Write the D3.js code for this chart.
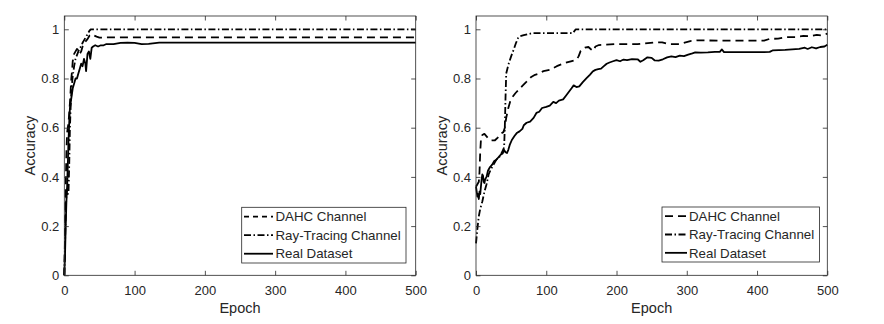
<!DOCTYPE html>
<html><head><meta charset="utf-8">
<script src="https://cdn.jsdelivr.net/npm/d3@7"></script>
<style>
body{margin:0;background:#fff}
svg{display:block}
text{font-family:"Liberation Sans",Arial,sans-serif;fill:#262626}
</style>
</head><body><svg id="c" width="884" height="324"></svg>
<script>
const xTicks=[0,100,200,300,400,500];
const yTicks=[0,0.2,0.4,0.6,0.8,1];
const yTickLabels=["0","0.2","0.4","0.6","0.8","1"];
const seriesNames=["DAHC Channel","Ray-Tracing Channel","Real Dataset"];
const xLabel="Epoch", yLabel="Accuracy";

// Left panel: [epoch, accuracy]
const leftDahc=[[0,0],[1,0.15],[2,0.35],[3,0.5],[4,0.58],[5,0.6],[6,0.62],[7,0.66],[8,0.7],[9,0.75],[10,0.8],[11,0.83],[12,0.87],[14,0.9],[16,0.91],[18,0.92],[20,0.915],[22,0.9],[24,0.91],[26,0.93],[28,0.945],[30,0.95],[33,0.96],[36,0.975],[39,0.98],[42,0.975],[46,0.97],[50,0.966],[60,0.967],[500,0.967]];
const leftRay=[[0,0],[1,0.12],[2,0.25],[3,0.33],[4,0.35],[5,0.33],[6,0.34],[7,0.45],[8,0.6],[9,0.68],[10,0.74],[11,0.78],[12,0.81],[14,0.85],[16,0.88],[18,0.895],[20,0.91],[22,0.925],[24,0.93],[26,0.945],[28,0.955],[30,0.965],[32,0.975],[34,0.985],[36,0.995],[38,1.0],[500,1.0]];
const leftReal=[[0,0],[1,0.08],[2,0.2],[3,0.3],[4,0.36],[5,0.45],[6,0.55],[7,0.62],[8,0.68],[9,0.7],[10,0.72],[12,0.76],[14,0.78],[16,0.8],[18,0.8],[20,0.82],[22,0.84],[24,0.86],[26,0.85],[28,0.88],[30,0.86],[31,0.83],[33,0.9],[35,0.91],[37,0.88],[39,0.925],[41,0.93],[44,0.935],[48,0.93],[52,0.935],[56,0.935],[60,0.94],[70,0.94],[80,0.945],[90,0.946],[100,0.945],[110,0.94],[120,0.941],[135,0.946],[500,0.946]];

// Right panel: [epoch, accuracy]
const rightDahc=[[0,0.36],[2,0.37],[4,0.38],[5,0.42],[6,0.5],[7,0.55],[9,0.57],[12,0.575],[15,0.565],[18,0.555],[22,0.548],[27,0.549],[31,0.56],[35,0.575],[39,0.582],[41,0.6],[43,0.64],[46,0.68],[49,0.71],[52,0.725],[56,0.74],[60,0.752],[66,0.77],[72,0.787],[78,0.805],[84,0.815],[90,0.82],[96,0.83],[105,0.835],[115,0.85],[125,0.862],[135,0.87],[143,0.876],[146,0.89],[149,0.912],[155,0.925],[160,0.928],[164,0.918],[167,0.912],[170,0.93],[175,0.936],[185,0.938],[200,0.94],[230,0.94],[255,0.947],[265,0.947],[275,0.94],[290,0.94],[305,0.952],[315,0.955],[350,0.954],[380,0.954],[410,0.954],[418,0.961],[430,0.962],[442,0.968],[455,0.968],[466,0.973],[475,0.972],[485,0.977],[492,0.975],[500,0.982]];
const rightRay=[[0,0.13],[2,0.19],[4,0.24],[6,0.27],[9,0.3],[12,0.34],[15,0.37],[18,0.41],[21,0.43],[25,0.45],[29,0.47],[33,0.48],[37,0.5],[40,0.52],[41,0.6],[42,0.72],[43,0.82],[46,0.855],[50,0.89],[54,0.92],[57,0.945],[60,0.965],[63,0.972],[68,0.976],[74,0.98],[80,0.984],[100,0.984],[120,0.984],[138,0.985],[142,1.0],[500,1.0]];
const rightReal=[[0,0.36],[1,0.34],[2,0.32],[3,0.33],[4,0.31],[5,0.34],[6,0.33],[7,0.36],[8,0.39],[9,0.41],[10,0.405],[11,0.38],[12,0.375],[13,0.39],[15,0.4],[17,0.425],[20,0.44],[23,0.45],[26,0.465],[29,0.47],[32,0.48],[35,0.49],[38,0.495],[40,0.51],[42,0.5],[44,0.497],[46,0.51],[48,0.53],[51,0.55],[55,0.567],[58,0.578],[62,0.585],[66,0.595],[68,0.61],[72,0.62],[77,0.625],[82,0.64],[86,0.66],[90,0.665],[94,0.68],[100,0.685],[105,0.69],[110,0.705],[114,0.7],[118,0.71],[124,0.715],[128,0.73],[132,0.745],[136,0.76],[139,0.772],[143,0.765],[147,0.768],[152,0.785],[157,0.8],[162,0.815],[166,0.828],[170,0.835],[174,0.838],[178,0.84],[182,0.85],[186,0.86],[190,0.865],[195,0.87],[200,0.875],[205,0.87],[210,0.877],[215,0.875],[222,0.879],[230,0.878],[234,0.868],[238,0.874],[244,0.886],[250,0.884],[254,0.874],[260,0.873],[266,0.878],[272,0.886],[278,0.89],[284,0.887],[290,0.893],[296,0.891],[302,0.897],[308,0.902],[312,0.906],[320,0.905],[330,0.906],[340,0.908],[347,0.908],[350,0.918],[353,0.907],[370,0.907],[390,0.907],[410,0.907],[418,0.908],[422,0.914],[440,0.916],[460,0.92],[468,0.925],[472,0.92],[478,0.927],[484,0.922],[490,0.928],[496,0.93],[500,0.937]];

const panels=[
 {x0:64.3,x1:415.7,y0:16,y1:275.3,series:[leftDahc,leftRay,leftReal],
  leg:{x0:241.7,x1:406,y0:207.3,y1:263,lx0:244,lx1:273,tx:275.5,dash:"5,4"}},
 {x0:476,x1:827.3,y0:16,y1:275.3,series:[rightDahc,rightRay,rightReal],
  leg:{x0:662,x1:819.5,y0:207,y1:262,lx0:665,lx1:687,tx:689,dash:"8,5"}}
];
const dashes=["8,5","7,2.5,1.5,2.5",null];

const svg=d3.select("#c");
svg.append("rect").attr("width",884).attr("height",324).attr("fill","#fff");

panels.forEach(p=>{
  const x=d3.scaleLinear().domain([0,500]).range([p.x0,p.x1]);
  const y=d3.scaleLinear().domain([0,1.054]).range([p.y1,p.y0]);
  const g=svg.append("g");
  const line=d3.line().x(d=>x(d[0])).y(d=>y(d[1]));
  p.series.forEach((s,i)=>{
    g.append("path").datum(s).attr("d",line).attr("fill","none")
     .attr("stroke","#000").attr("stroke-width",1.8)
     .attr("stroke-linejoin","round")
     .attr("stroke-dasharray",dashes[i]);
  });
  const fmt=d=>yTickLabels[yTicks.indexOf(d)];
  const ax=(gen,tr)=>{
    const a=g.append("g").attr("transform",tr).call(gen);
    a.select(".domain").remove();
    a.selectAll("line").attr("stroke","#262626").attr("stroke-width",0.8);
    a.selectAll("text").style("font-size","13px").attr("fill","#262626");
    return a;
  };
  ax(d3.axisBottom(x).tickValues(xTicks).tickSizeInner(-4.5).tickSizeOuter(0).tickPadding(10.5).tickFormat(d3.format("d")),`translate(0,${p.y1})`);
  ax(d3.axisTop(x).tickValues(xTicks).tickSizeInner(-4.5).tickSizeOuter(0).tickFormat(""),`translate(0,${p.y0})`);
  ax(d3.axisLeft(y).tickValues(yTicks).tickSizeInner(-4.5).tickSizeOuter(0).tickPadding(5).tickFormat(fmt),`translate(${p.x0},0)`);
  ax(d3.axisRight(y).tickValues(yTicks).tickSizeInner(-4.5).tickSizeOuter(0).tickFormat(""),`translate(${p.x1},0)`);
  g.append("rect").attr("x",p.x0).attr("y",p.y0).attr("width",p.x1-p.x0).attr("height",p.y1-p.y0)
   .attr("fill","none").attr("stroke","#262626").attr("stroke-width",0.8);
  g.append("text").attr("x",(p.x0+p.x1)/2).attr("y",312.5).attr("text-anchor","middle")
   .style("font-size","14.5px").text(xLabel);
  g.append("text").attr("transform",`translate(${p.x0-29.5},${(p.y0+p.y1)/2}) rotate(-90)`)
   .attr("text-anchor","middle").style("font-size","14.5px").text(yLabel);
  const L=p.leg;
  g.append("rect").attr("x",L.x0).attr("y",L.y0).attr("width",L.x1-L.x0).attr("height",L.y1-L.y0)
   .attr("fill","#fff").attr("stroke","#262626").attr("stroke-width",0.8);
  const rh=(L.y1-L.y0)/3;
  seriesNames.forEach((n,i)=>{
    const cy=L.y0+rh*(i+0.5);
    g.append("line").attr("x1",L.lx0).attr("x2",L.lx1).attr("y1",cy).attr("y2",cy)
     .attr("stroke","#000").attr("stroke-width",1.8)
     .attr("stroke-dasharray",i===0?L.dash:dashes[i]);
    g.append("text").attr("x",L.tx).attr("y",cy+4.7).style("font-size","13.3px").attr("fill","#000").text(n);
  });
});
</script>
</body></html>
